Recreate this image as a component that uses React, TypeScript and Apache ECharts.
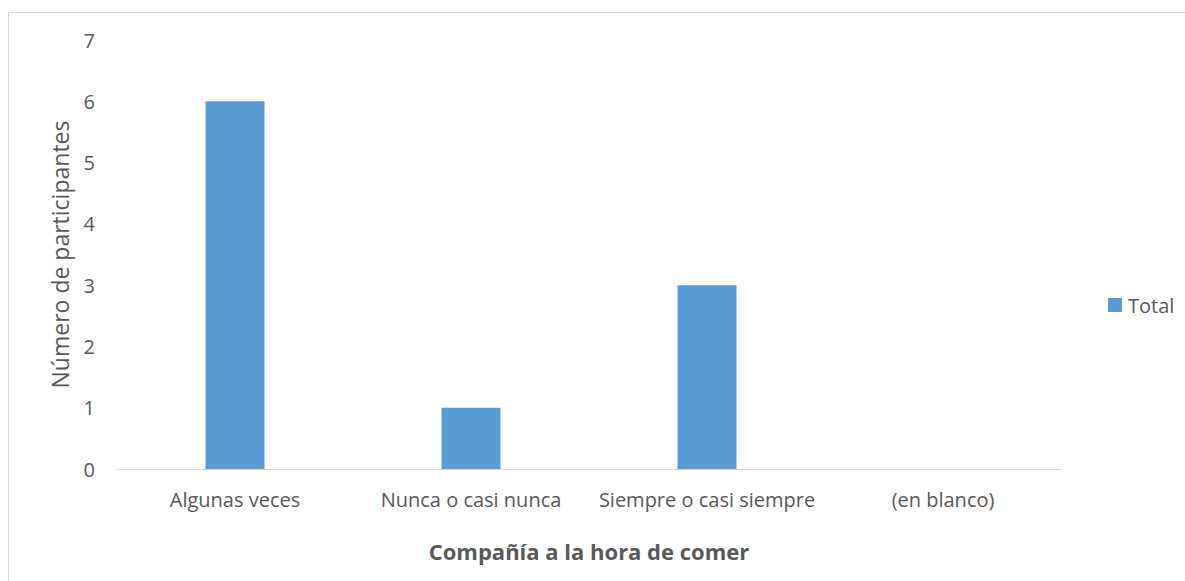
import React, { useEffect, useRef } from "react";
import * as echarts from "echarts";

const categories = ["Algunas veces", "Nunca o casi nunca", "Siempre o casi siempre", "(en blanco)"];
const totalValues = [6, 1, 3, 0];
const seriesName = "Total";
const xTitle = "Compañía a la hora de comer";
const yTitle = "Número de participantes";

const FONT = "'Open Sans', 'Liberation Sans', sans-serif";
const TXT = "#595959";

export default function App() {
  const ref = useRef<HTMLDivElement>(null);
  useEffect(() => {
    const chart = echarts.init(ref.current!, null, { renderer: "svg" });
    chart.setOption({
      animation: false,
      textStyle: { fontFamily: FONT },
      graphic: [
        {
          type: "rect",
          shape: { x: 8.5, y: 12.5, width: 1200, height: 600 },
          style: { fill: "none", stroke: "#d9d9d9", lineWidth: 1 },
          silent: true,
        },
      ],
      grid: { left: 117, right: 124, top: 40, bottom: 112 },
      legend: {
        show: true,
        data: [seriesName],
        left: 1103,
        top: 290,
        orient: "vertical",
        itemWidth: 14,
        itemHeight: 14,
        itemGap: 5,
        icon: "rect",
        textStyle: { fontFamily: FONT, fontSize: 20, color: TXT, padding: [0, 0, 0, 1] },
      },
      xAxis: {
        type: "category",
        data: categories,
        axisLine: { lineStyle: { color: "#d9d9d9", width: 1 } },
        axisTick: { show: false },
        axisLabel: { fontFamily: FONT, fontSize: 20, color: TXT, margin: 20, interval: 0 },
        name: xTitle,
        nameLocation: "middle",
        nameGap: 71,
        nameTextStyle: { fontFamily: FONT, fontSize: 22, fontWeight: "bold", color: TXT },
      },
      yAxis: {
        type: "value",
        min: 0,
        max: 7,
        interval: 1,
        splitLine: { show: false },
        axisLine: { show: false },
        axisTick: { show: false },
        axisLabel: { fontFamily: FONT, fontSize: 20, color: TXT, margin: 22 },
        name: yTitle,
        nameLocation: "middle",
        nameGap: 46,
        nameTextStyle: { fontFamily: FONT, fontSize: 23, color: TXT },
      },
      series: [
        {
          name: seriesName,
          type: "bar",
          data: totalValues,
          barWidth: "25%",
          itemStyle: { color: "#5B9BD5" },
        },
      ],
    });
    return () => chart.dispose();
  }, []);
  return (
    <div
      ref={ref}
      style={{ position: "absolute", left: 0, top: 0, width: 1185, height: 581, background: "#fff" }}
    />
  );
}
